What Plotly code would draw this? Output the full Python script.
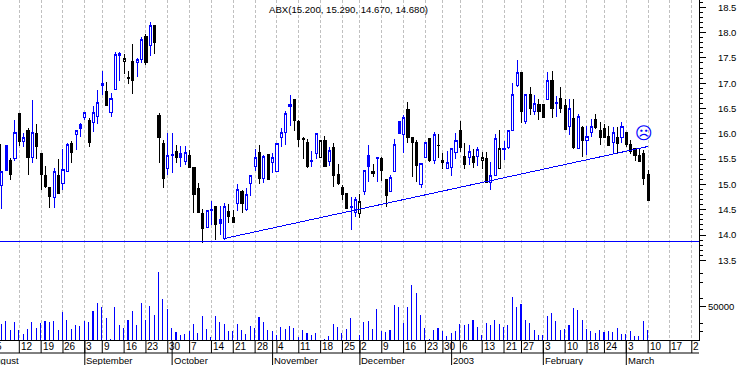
import plotly.graph_objects as go

title = "ABX(15.200, 15.290, 14.670, 14.680)"

opens = [14.98,15.76,15.48,15.51,16.41,15.84,16.07,15.53,16.01,15.61,15.18,14.93,14.74,15.18,15.02,15.25,15.80,15.99,16.19,16.32,
16.27,16.22,16.35,17.00,16.83,16.42,16.88,17.58,17.43,17.11,17.42,17.41,17.47,17.92,17.75,18.15,16.37,15.81,15.31,15.59,
15.66,15.61,15.45,15.58,15.34,14.92,14.43,14.14,14.50,14.57,14.31,13.93,14.47,14.35,14.63,14.85,14.51,15.01,15.36,15.63,
15.11,15.59,15.43,15.25,15.92,16.02,16.57,16.67,16.25,15.90,15.83,15.48,15.61,15.53,15.86,15.45,15.73,15.20,14.93,14.82,
14.56,14.44,14.43,14.86,15.58,15.21,15.53,15.52,15.09,14.86,15.26,16.25,15.99,16.48,15.93,15.82,15.00,15.53,15.90,15.47,
15.77,15.48,15.32,15.33,15.63,16.07,15.55,15.53,15.55,15.55,15.47,15.52,15.04,15.17,15.31,15.71,15.73,16.07,16.96,17.21,
16.24,16.77,16.44,16.57,16.57,16.68,17.06,16.62,16.70,16.56,16.15,16.31,15.71,16.12,15.86,16.02,16.28,16.07,16.11,15.94,
15.82,15.93,15.92,16.03,15.79,15.71,15.58,15.62,15.20]
highs = [15.26,15.76,15.52,16.27,16.41,16.02,16.11,16.67,16.19,15.61,15.37,14.93,15.32,15.50,15.69,15.81,15.86,16.07,16.22,16.42,
16.32,16.54,16.87,17.24,17.02,16.80,17.61,17.61,17.58,17.24,17.77,17.49,17.92,17.98,18.20,18.15,16.42,15.88,16.02,16.01,
15.78,15.76,15.75,15.68,15.34,15.02,14.51,14.49,14.67,14.57,14.57,14.64,14.61,14.49,15.01,14.89,14.92,15.18,15.69,15.78,
15.58,15.59,15.63,15.81,16.11,16.46,16.77,16.67,16.28,15.93,15.89,15.66,16.01,15.87,15.96,15.73,15.81,15.40,14.99,14.82,
14.76,14.76,14.81,15.28,15.78,15.40,15.55,15.55,15.11,15.18,15.89,16.25,16.37,16.62,15.93,15.88,15.42,15.83,15.90,16.04,
15.99,15.63,15.66,15.71,16.01,16.25,15.81,15.78,15.69,15.73,15.65,15.65,15.44,15.99,16.07,15.86,16.07,17.00,17.46,17.23,
16.78,16.92,16.77,16.68,16.57,17.23,17.24,16.75,16.92,16.69,16.69,16.68,16.40,16.15,16.15,16.30,16.40,16.24,16.19,16.15,
16.14,16.14,16.23,16.03,15.88,15.71,15.69,15.68,15.29]
lows = [14.51,15.28,15.09,15.47,15.75,15.73,15.18,15.43,15.51,14.88,14.92,14.54,14.54,14.81,14.88,15.25,15.42,15.68,15.93,16.28,
15.73,16.04,16.19,16.77,16.54,16.34,16.88,17.04,17.18,16.98,16.79,17.13,17.40,17.36,17.54,17.58,15.43,14.93,15.18,15.23,
15.42,15.35,15.38,15.32,14.44,14.44,13.85,14.13,14.20,13.91,14.00,13.91,14.24,14.24,14.48,14.43,14.48,14.78,15.26,15.01,
15.02,15.09,15.22,15.25,15.73,15.78,16.16,16.05,15.73,15.51,15.32,15.35,15.51,15.52,15.36,15.36,14.95,14.99,14.70,14.53,
14.10,14.36,14.33,14.79,15.05,15.15,15.05,15.07,14.55,14.84,15.25,16.01,15.63,15.81,15.14,15.05,14.93,15.53,15.45,15.40,
15.53,15.30,15.31,15.17,15.51,15.65,15.30,15.38,15.32,15.36,15.30,15.04,14.88,15.17,15.31,15.49,15.69,16.07,16.92,16.21,
16.19,16.37,16.37,16.27,16.32,16.68,16.32,16.34,16.42,16.07,15.98,15.70,15.71,15.55,15.58,15.93,16.10,15.78,15.91,15.75,
15.63,15.63,15.81,15.73,15.61,15.46,15.45,14.99,14.67]
closes = [15.26,15.28,15.19,16.02,15.84,15.93,15.53,16.03,15.75,15.19,14.95,14.76,15.26,14.83,15.30,15.78,15.64,16.07,16.10,16.42,
15.82,16.42,16.62,16.96,16.55,16.70,17.56,17.54,17.49,17.09,17.05,17.46,17.87,17.40,18.15,17.80,15.92,15.11,15.58,15.58,
15.53,15.53,15.63,15.33,14.80,14.44,14.12,14.49,14.48,14.21,14.23,14.57,14.36,14.24,14.90,14.62,14.81,15.18,15.53,15.11,
15.55,15.09,15.53,15.81,16.03,16.41,16.54,16.27,15.88,15.88,15.36,15.45,16.01,15.87,15.36,15.67,15.17,15.01,14.80,14.53,
14.54,14.70,14.66,15.28,15.35,15.26,15.51,15.27,14.78,15.14,15.78,16.01,16.32,15.92,15.82,15.38,15.42,15.83,15.47,15.99,
15.76,15.43,15.43,15.71,15.87,15.73,15.39,15.65,15.43,15.68,15.53,15.04,15.17,15.91,15.70,15.69,16.07,16.77,17.22,16.45,
16.78,16.50,16.60,16.45,16.32,17.06,16.50,16.60,16.50,16.09,16.50,15.73,16.34,15.86,15.94,16.15,16.12,15.92,15.92,15.76,
16.03,15.81,16.15,15.78,15.66,15.58,15.46,15.11,14.68]
# sessions drawn in black; every other session is drawn in blue
black_sessions = [2,4,6,8,9,10,11,13,16,20,24,28,29,30,33,35,36,37,40,43,44,45,46,49,52,53,55,59,61,67,68,69,70,73,74,76,77,78,79,
82,85,87,88,93,94,95,98,100,101,105,106,108,110,111,114,119,121,123,124,126,128,129,131,133,136,137,138,139,141,143,144,145,146,147,148]
volumes_k = [24,28.5,15,27,15,9,16.5,27,18,25.5,27,27,28.5,15,42,30,16.5,22.5,21,28.5,27,42,55.5,49.5,33,1.5,49.5,22.5,18,28.5,
43.5,22.5,55.5,30,51,37.5,103.5,61.5,46.5,18,10.5,7.5,9,13.5,24,10.5,36,16.5,4.5,36,27,24,13.5,13.5,24,15,9,21,18,33,
27,15,13.5,7.5,19.5,16.5,21,18,4.5,15,9,7.5,10.5,0,1.5,6,24,19.5,10.5,16.5,33,0,7.5,27,28.5,16.5,46.5,13.5,12,13.5,
52.5,49.5,25.5,49.5,84,70.5,37.5,18,1.5,15,16.5,13.5,6,10.5,13.5,24,22.5,24,28.5,19.5,7.5,25.5,22.5,30,24,19.5,22.5,64.5,49.5,52.5,
30,25.5,15,7.5,7.5,36,40.5,28.5,15,16.5,21,48,45,30,16.5,13.5,10.5,15,10.5,13.5,12,18,9,9,13.5,6,6,28.5,15]

week_ticks = [4,9,14,19,23,28,33,38,43,48,53,58,63,68,73,78,82,87,92,97,101,105,110,115,119,124,129,134,138,143,148,153,158]
week_labels = ["12","19","26","3","9","16","23","30","7","14","21","28","4","11","18","25","2","9","16","23","30","6","13","21","27","3","10","18","24","3","10","17","2"]
month_ticks = [19,39,62,82,103,124,143]
month_labels = ["September","October","November","December","2003","February","March"]

trend_x = [50.9,148]
trend_y = [13.93,15.75]
support_x = [-0.42,159.65]
support_y = [13.88,13.88]
edge_wick_x = [-0.3,-0.3]
edge_wick_y = [15.79,15.26]

price_labels = [13.5,14.0,14.5,15.0,15.5,16.0,16.5,17.0,17.5,18.0,18.5]
price_range = [11.925,18.644]
vol_minor = [12500,25000,62500,87500,100000]
vol_range = [0,515000]
x_range = [-0.42,159.65]

BLUE = "#0000ff"
FONT = "Liberation Sans"


def candles(idx, colour):
    return go.Candlestick(
        x=idx,
        open=[opens[i] for i in idx],
        high=[highs[i] for i in idx],
        low=[lows[i] for i in idx],
        close=[closes[i] for i in idx],
        whiskerwidth=0,
        increasing=dict(line=dict(color=colour, width=1), fillcolor="#ffffff"),
        decreasing=dict(line=dict(color=colour, width=1), fillcolor=colour),
        showlegend=False,
    )


n = len(closes)
blue_idx = [i for i in range(n) if i not in set(black_sessions)]

fig = go.Figure()
fig.add_trace(go.Bar(x=list(range(n)), y=[v * 1000 for v in volumes_k], yaxis="y2", width=0.02,
                     marker=dict(color=BLUE, line=dict(width=1, color=BLUE)), showlegend=False))
fig.add_trace(candles(blue_idx, BLUE))
fig.add_trace(candles(black_sessions, "#000000"))
fig.add_trace(go.Scatter(x=edge_wick_x, y=edge_wick_y, mode="lines", line=dict(color="#000000", width=1), showlegend=False))
fig.add_trace(go.Scatter(x=trend_x, y=trend_y, mode="lines", line=dict(color=BLUE, width=1), showlegend=False))
fig.add_trace(go.Scatter(x=support_x, y=support_y, mode="lines", line=dict(color=BLUE, width=1), showlegend=False))

shapes = [dict(type="line", xref="paper", yref="paper", x0=0, x1=1, y0=-13 / 340, y1=-13 / 340,
               line=dict(color="#000000", width=1))]
for m in month_ticks:
    shapes.append(dict(type="line", xref="x", yref="paper", x0=m, x1=m, y0=0, y1=-25 / 340,
                       line=dict(color="#000000", width=1)))
for w in week_ticks:
    shapes.append(dict(type="line", xref="x", yref="paper", x0=w, x1=w, y0=0, y1=-13 / 340,
                       line=dict(color="#000000", width=1)))

ann = []
for w, lab in zip(week_ticks, week_labels):
    ann.append(dict(x=w, y=0, xref="x", yref="paper", text=lab, showarrow=False, xanchor="left", yanchor="middle",
                    yshift=-6.5, xshift=-0.5, font=dict(family=FONT, size=10, color="#000000")))
ann.append(dict(x=0.4, y=0, xref="x", yref="paper", text="5", showarrow=False, xanchor="right", yanchor="middle",
                yshift=-6.5, font=dict(family=FONT, size=10, color="#000000")))
for m, lab in zip(month_ticks, month_labels):
    ann.append(dict(x=m, y=0, xref="x", yref="paper", text=lab, showarrow=False, xanchor="left", yanchor="middle",
                    yshift=-20.5, xshift=-0.5, font=dict(family=FONT, size=9.5, color="#000000")))
ann.append(dict(x=4.4, y=0, xref="x", yref="paper", text="August", showarrow=False, xanchor="right", yanchor="middle",
                yshift=-20.5, font=dict(family=FONT, size=9.5, color="#000000")))
ann.append(dict(x=60.7, y=18.45, xref="x", yref="y", text=title, showarrow=False, xanchor="left", yanchor="middle",
                font=dict(family=FONT, size=9.6, color="#000000")))
ann.append(dict(x=147.1, y=16.02, xref="x", yref="y", text="\u2639", showarrow=False, xanchor="center", yanchor="middle",
                font=dict(family="DejaVu Sans", size=17, color=BLUE)))

fig.update_layout(
    width=738, height=365,
    margin=dict(l=0, r=39.3, t=0, b=25, pad=0),
    paper_bgcolor="#ffffff", plot_bgcolor="#ffffff",
    autosize=False,
    bargap=0,
    showlegend=False,
    shapes=shapes,
    annotations=ann,
    xaxis=dict(range=x_range, rangeslider=dict(visible=False), tickmode="array", tickvals=week_ticks, ticktext=[""] * len(week_ticks),
               showgrid=True, gridcolor="#c0c0c0", griddash="3px,2px", gridwidth=1,
               zeroline=False, showline=True, linecolor="#000000", linewidth=1, ticks=""),
    yaxis=dict(range=price_range, side="right", tickmode="array", tickvals=price_labels,
               ticktext=[f"{p:.1f}" for p in price_labels], ticks="outside", ticklen=6, tickcolor="#000000",
               ticklabelstandoff=10,
               showgrid=False, zeroline=False, showline=True, linecolor="#000000", linewidth=1,
               tickfont=dict(family=FONT, size=9.5, color="#000000"),
               minor=dict(tickmode="array", tickvals=[round(13.5 + 0.1 * k, 1) for k in range(52)],
                          ticks="outside", ticklen=3, tickcolor="#000000", showgrid=False)),
    yaxis2=dict(range=vol_range, overlaying="y", side="right", anchor="x", tickmode="array", tickvals=[50000],
                ticktext=["50000"], ticks="outside", ticklen=6, tickcolor="#000000",
                showgrid=False, zeroline=False, showline=False,
                tickfont=dict(family=FONT, size=9.5, color="#000000"),
                minor=dict(tickmode="array", tickvals=vol_minor, ticks="outside", ticklen=3, tickcolor="#000000", showgrid=False)),
)

fig.write_html("out.html", config=dict(displayModeBar=False),
               post_script=("document.body.style.margin='0';document.documentElement.style.overflow='hidden';"
                            "document.querySelectorAll('.boxlayer path,.barlayer path,.scatterlayer path')"
                            ".forEach(function(p){p.style.shapeRendering='crispEdges';});"))
